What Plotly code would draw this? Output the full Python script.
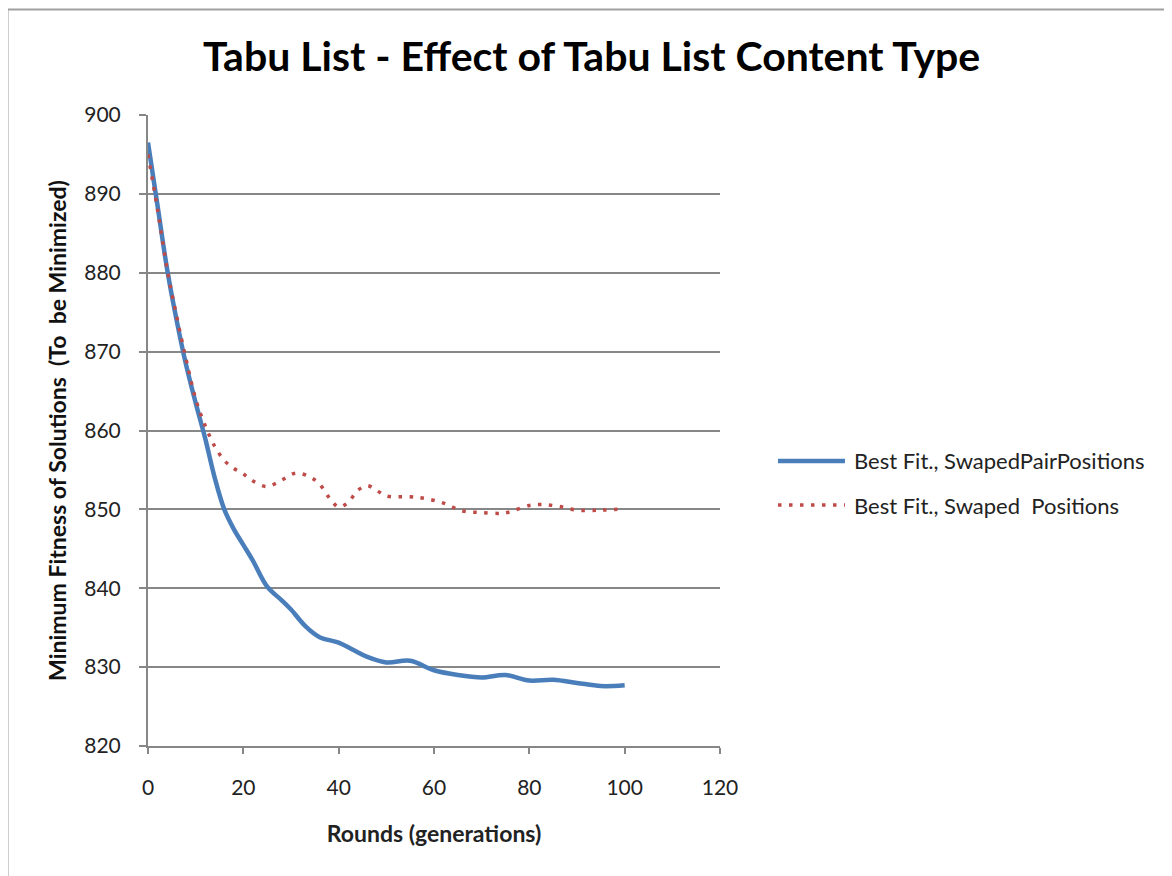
import plotly.graph_objects as go

# Rounds (generations) and minimum fitness values
rounds_pair = [0, 2, 4, 6, 8, 10, 12, 14, 16, 18, 20, 22, 25, 28, 30, 33, 36, 40,
               43, 46, 50, 55, 60, 65, 70, 75, 80, 85, 90, 95, 100]
fit_pair = [896.5, 888.5, 880.5, 874.0, 868.3, 863.5, 859.0, 854.0, 850.0, 847.5,
            845.5, 843.5, 840.2, 838.5, 837.3, 835.2, 833.8, 833.1, 832.2, 831.3,
            830.6, 830.8, 829.6, 829.0, 828.7, 829.0, 828.3, 828.4, 828.0, 827.6, 827.7]

rounds_pos = [0, 2, 4, 6, 8, 10, 12, 14, 16, 18, 20, 22, 25, 28, 31, 34, 36, 38, 40,
              42, 44, 46, 48, 50, 55, 58, 62, 66, 70, 74, 76, 80, 83, 86, 90, 95, 100]
fit_pos = [895.0, 888.0, 880.5, 874.5, 869.0, 864.0, 860.6, 858.0, 856.2, 855.2,
           854.5, 853.6, 852.9, 853.7, 854.6, 854.1, 853.2, 851.5, 850.3, 850.9,
           852.4, 853.0, 852.4, 851.7, 851.6, 851.4, 850.8, 849.8, 849.6, 849.5,
           849.7, 850.5, 850.6, 850.4, 849.9, 849.9, 850.1]

names = ["Best Fit., SwapedPairPositions", "Best Fit., Swaped  Positions"]

FONT = "Lato, 'Open Sans', sans-serif"
GRID = "#878787"
BLUE = "#4a7ebb"
RED = "#be4b48"
BLUE_LINE = dict(color=BLUE, width=4.5)
RED_LINE = dict(color=RED, width=3.5, dash="3.5px,7.5px")

fig = go.Figure()
fig.add_trace(go.Scatter(
    x=rounds_pair, y=fit_pair, mode="lines",
    line=dict(**BLUE_LINE, shape="spline", smoothing=1.0),
    name=names[0], showlegend=False,
))
fig.add_trace(go.Scatter(
    x=rounds_pos, y=fit_pos, mode="lines",
    line=dict(**RED_LINE, shape="spline", smoothing=1.0),
    name=names[1], showlegend=False,
))

# outer chart border (runs past the right/bottom edge of the picture)
fig.add_shape(type="rect", xref="paper", yref="paper",
              x0=-0.2456, x1=1.9, y0=-0.3, y1=1.167,
              line=dict(color="#a0a0a0", width=2), layer="below")

# hand-drawn legend so the line samples get Excel's long swatches and row gap
for i, (line, yp) in enumerate([(BLUE_LINE, 0.4517), (RED_LINE, 0.3819)]):
    fig.add_shape(type="line", xref="paper", yref="paper",
                  x0=1.1014, x1=1.2185, y0=yp, y1=yp, line=line)
    fig.add_annotation(xref="paper", yref="paper", x=1.2308, y=yp,
                       xanchor="left", yanchor="middle", showarrow=False,
                       text=names[i], font=dict(size=22, color="#222"))

fig.update_layout(
    width=1172, height=876,
    margin=dict(l=140, r=460, t=107, b=138),
    paper_bgcolor="white", plot_bgcolor="white",
    font=dict(family=FONT, size=21, color="#222"),
    title=dict(text="<b>Tabu List - Effect of Tabu List Content Type</b>",
               x=0.498, xanchor="center", y=0.944, yanchor="middle",
               font=dict(size=41, color="black")),
    showlegend=False,
)
fig.update_xaxes(
    range=[0, 120], tickvals=[0, 20, 40, 60, 80, 100, 120],
    showgrid=False, zeroline=False, showline=True, linecolor=GRID, linewidth=2,
    ticks="outside", ticklen=6, tickcolor=GRID, tickwidth=2, ticklabelstandoff=16,
    title=dict(text="<b>Rounds (generations)</b>", font=dict(size=23, color="#222"), standoff=28),
    tickfont=dict(size=21),
)
fig.update_yaxes(
    range=[820, 900], dtick=10,
    showgrid=True, gridcolor=GRID, gridwidth=1.5, zeroline=False,
    showline=True, linecolor=GRID, linewidth=2,
    ticks="outside", ticklen=7, tickcolor=GRID, tickwidth=2, ticklabelstandoff=14,
    title=dict(text="<b>Minimum Fitness of Solutions  (To  be Minimized)</b>",
               font=dict(size=23, color="#111"), standoff=11),
    tickfont=dict(size=21),
)

fig.write_html("out.html")
